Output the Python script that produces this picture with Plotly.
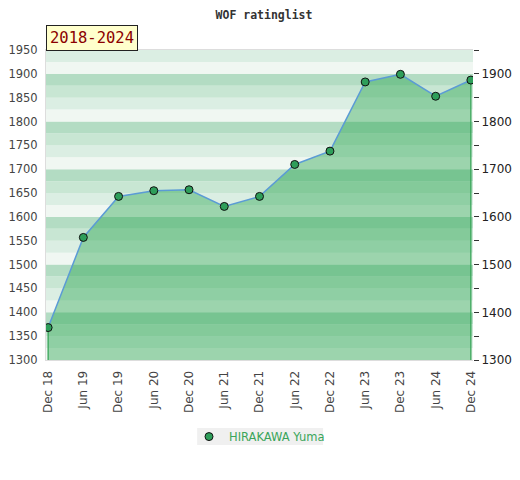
import plotly.graph_objects as go

periods = ["Dec 18", "Jun 19", "Dec 19", "Jun 20", "Dec 20", "Jun 21", "Dec 21",
           "Jun 22", "Dec 22", "Jun 23", "Dec 23", "Jun 24", "Dec 24"]
ratings = [1368, 1557, 1643, 1655, 1657, 1622, 1643, 1710, 1738, 1883, 1899, 1853, 1887]
player = "HIRAKAWA Yuma"
period_label = "2018-2024"
title = "WOF ratinglist"

y_min, y_max = 1300, 1950
band_step = 25
# colour of each quarter within a hundred, from bottom to top
band_colors = ["#f0f7f2", "#dbeee3", "#c8e6d3", "#b3dcc3"]

fig = go.Figure()

# filled area
fig.add_trace(go.Scatter(
    x=periods, y=ratings, mode="lines", fill="tozeroy",
    fillcolor="rgba(30,160,70,0.40)", line=dict(color="rgba(0,0,0,0)", width=0),
    hoverinfo="skip", showlegend=False))
# edge lines of filled area
fig.add_trace(go.Scatter(
    x=[periods[0], periods[0], None, periods[-1], periods[-1]],
    y=[y_min, ratings[0], None, y_min, ratings[-1]],
    mode="lines", line=dict(color="#2ea050", width=1.2),
    hoverinfo="skip", showlegend=False))
# main line
fig.add_trace(go.Scatter(
    x=periods, y=ratings, mode="lines", line=dict(color="#5b9bd5", width=1.5),
    hoverinfo="skip", showlegend=False))
# markers
fig.add_trace(go.Scatter(
    x=periods, y=ratings, mode="markers", name=player,
    marker=dict(size=8, color="#2e9e5a", line=dict(color="#111111", width=1)),
    showlegend=True))
# invisible trace for right axis
fig.add_trace(go.Scatter(x=[periods[0]], y=[y_min], yaxis="y2", mode="markers",
                         marker=dict(opacity=0), hoverinfo="skip", showlegend=False))

shapes = []
v = y_min
while v < y_max:
    q = (v % 100) // band_step
    shapes.append(dict(type="rect", xref="paper", yref="y", x0=0, x1=1, y0=v, y1=v + band_step,
                       fillcolor=band_colors[int(q)], line=dict(width=0), layer="below"))
    v += band_step
# legend background box
shapes.append(dict(type="rect", xref="paper", yref="paper", x0=0.354, x1=0.649,
                   y0=-0.274, y1=-0.219, fillcolor="#f0f0f0", line=dict(width=0),
                   layer="below"))

axis_font = dict(family="DejaVu Sans", size=11.5, color="#444444")

fig.update_layout(
    width=512, height=472,
    margin=dict(l=38, r=47, t=42, b=120, autoexpand=False),
    paper_bgcolor="white", plot_bgcolor="white",
    shapes=shapes,
    title=dict(text="<b>" + title + "</b>", x=0.5, xanchor="center",
               y=1 - 7 / 472, yanchor="middle",
               font=dict(family="DejaVu Sans Mono", size=11.5, color="#333333")),
    xaxis=dict(type="category", range=[-0.06, len(periods) - 1 + 0.06],
               tickangle=-90, tickfont=dict(family="DejaVu Sans", size=12, color="#444444"),
               showgrid=False, zeroline=False,
               showline=True, linecolor="#dddddd", linewidth=1, mirror=True,
               ticks="", ticklabelstandoff=5, fixedrange=True),
    yaxis=dict(range=[y_min, y_max], dtick=50, tickfont=axis_font, showgrid=False,
               zeroline=False, showline=True, linecolor="#dddddd", linewidth=1,
               ticks="", ticklabelstandoff=5),
    yaxis2=dict(range=[y_min, y_max], dtick=100, overlaying="y", side="right",
                tickfont=dict(family="DejaVu Sans", size=12, color="#222222"),
                showgrid=False, zeroline=False, ticks="outside", ticklen=5,
                tickcolor="#333333",
                minor=dict(dtick=50, ticks="outside", ticklen=5, tickcolor="#333333"),
                showline=False),
    legend=dict(orientation="h", x=0.5, xanchor="center", y=-0.247, yanchor="middle",
                bgcolor="rgba(0,0,0,0)", itemwidth=30,
                font=dict(family="DejaVu Sans", size=11.5, color="#3aa55a")),
    annotations=[dict(text=period_label, xref="paper", yref="paper", x=0, y=1,
                      xanchor="left", yanchor="bottom", showarrow=False, yshift=-1,
                      font=dict(family="DejaVu Sans Mono", size=15.5, color="#8b0000"),
                      bgcolor="#ffffcc", bordercolor="#222222", borderwidth=1, borderpad=3)],
)

fig.write_html("out.html")
